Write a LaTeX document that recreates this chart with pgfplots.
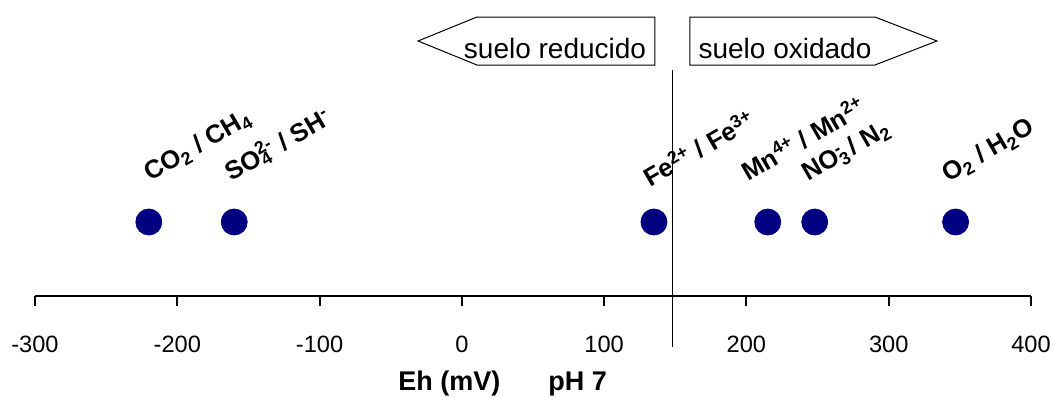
\documentclass[border=0pt]{standalone}
\usepackage{fontspec}
\setmainfont{Liberation Sans}
\usepackage{pgfplots}
\pgfplotsset{compat=1.18}
\definecolor{ptblue}{RGB}{0,0,128}
\newcommand{\lbl}{\bfseries\fontsize{12.8}{14}\selectfont}
\begin{document}
\begin{tikzpicture}
\begin{axis}[
  scale only axis, width=498pt, height=139.5pt,
  xmin=-300, xmax=400, ymin=0, ymax=279,
  clip=false,
  axis x line=bottom, axis y line=none,
  axis line style={-, line width=1pt},
  xtick={-300,-200,-100,0,100,200,300,400},
  xticklabels={-300,-200,-100,0,100,200,300,400},
  tick align=outside, major tick length=5pt,
  xtick style={line width=1pt, black},
  xticklabel style={font=\fontsize{11.8}{13}\selectfont, yshift=-11.5pt},
  ytick=\empty,
]
\coordinate (O) at (axis cs:-300,0);
% data points
\addplot[only marks, mark=*, mark size=6.5pt, color=ptblue] coordinates {
  (-220,74) (-160,74) (135,74) (215,74) (248,74) (347,74)};
% boundary line
\addplot[black, line width=0.5pt, mark=none] coordinates {(148,-51) (148,226)};
% arrows
\draw[line width=0.5pt, fill=white] (axis cs:-30.8,255) -- (axis cs:10.6,279) -- (axis cs:135.7,279) -- (axis cs:135.7,231) -- (axis cs:10.6,231) -- cycle;
\draw[line width=0.5pt, fill=white] (axis cs:160.3,231) -- (axis cs:160.3,279) -- (axis cs:290.3,279) -- (axis cs:333.9,255) -- (axis cs:290.3,231) -- cycle;
\node[anchor=base, inner sep=0pt, font=\fontsize{14}{16}\selectfont] at (axis cs:65.5,238) {suelo reducido};
\node[anchor=base, inner sep=0pt, font=\fontsize{14}{16}\selectfont] at (axis cs:227.1,238) {suelo oxidado};
% labels
\node[rotate=30, anchor=base west, inner sep=0pt, font=\lbl] at (axis cs:-219.2,114) {CO\textsubscript{2} / CH\textsubscript{4}};
\node[rotate=30, anchor=base west, inner sep=0pt, font=\lbl] at (axis cs:-162.3,114) {SO\rlap{\textsubscript{4}}\textsuperscript{2-} / SH\textsuperscript{-}};
\node[rotate=30, anchor=base west, inner sep=0pt, font=\lbl] at (axis cs:132.2,108) {Fe\textsuperscript{2+} / Fe\textsuperscript{3+}};
\node[rotate=30, anchor=base west, inner sep=0pt, font=\lbl] at (axis cs:201,114) {Mn\textsuperscript{4+} / Mn\textsuperscript{2+}};
\node[rotate=30, anchor=base west, inner sep=0pt, font=\lbl] at (axis cs:243.3,114) {NO\rlap{\textsubscript{3}}\textsuperscript{-} / N\textsubscript{2}};
\node[rotate=30, anchor=base west, inner sep=0pt, font=\lbl] at (axis cs:341.6,113) {O\textsubscript{2} / H\textsubscript{2}O};
% axis title
\node[anchor=base west, inner sep=0pt, font=\bfseries\fontsize{13.5}{15}\selectfont] at (axis cs:-44.9,-94) {Eh (mV)\hspace{24pt}pH 7};
\end{axis}
\pgfresetboundingbox
\path (O) ++(-17.5pt,-50.5pt) rectangle ++(527pt,198.5pt);
\end{tikzpicture}
\end{document}
